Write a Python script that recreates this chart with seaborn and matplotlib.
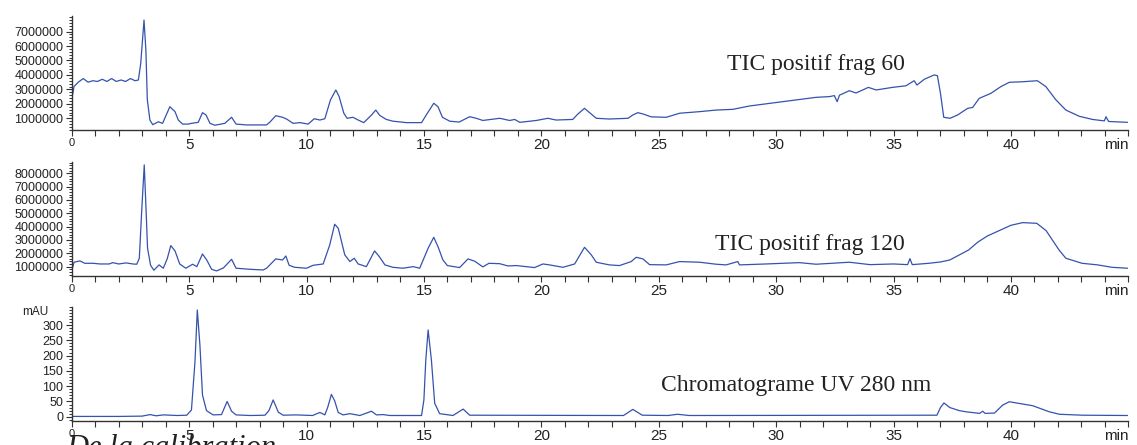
import matplotlib
matplotlib.use("Agg")
import matplotlib.pyplot as plt
from matplotlib.ticker import MultipleLocator, FuncFormatter
import seaborn as sns

# --- data (time in min) ---
# TIC positif frag 60, values in millions of counts
tic60_time = [0.0, 0.1, 0.28, 0.49, 0.7, 0.9, 1.1, 1.3, 1.5, 1.7, 1.9, 2.1, 2.3, 2.5, 2.7, 2.84,
              2.94, 3.08, 3.16, 3.22, 3.33, 3.45, 3.69, 3.87, 4.18, 4.4, 4.54, 4.72, 4.96, 5.1,
              5.39, 5.57, 5.72, 5.89, 6.1, 6.52, 6.81, 7.0, 7.45, 8.3, 8.45, 8.69, 8.98, 9.15,
              9.43, 9.72, 10.07, 10.33, 10.57, 10.78, 11.02, 11.25, 11.39, 11.59, 11.73, 11.98,
              12.2, 12.44, 12.77, 12.95, 13.12, 13.4, 13.68, 14.26, 14.9, 15.1, 15.42, 15.6,
              15.79, 16.1, 16.5, 16.95, 17.23, 17.51, 18.23, 18.65, 18.87, 19.08, 19.79, 20.28,
              20.63, 21.34, 21.56, 21.84, 22.05, 22.34, 22.9, 23.69, 23.9, 24.11, 24.33, 24.68,
              25.32, 25.89, 26.74, 27.45, 28.16, 28.86, 29.57, 30.28, 30.99, 31.7, 32.27, 32.48,
              32.6, 32.7, 33.12, 33.4, 33.93, 34.26, 34.96, 35.53, 35.88, 36.0, 36.31, 36.73,
              36.87, 37.0, 37.14, 37.41, 37.73, 38.16, 38.37, 38.65, 39.15, 39.57, 39.93, 40.5,
              41.13, 41.49, 41.92, 42.34, 42.91, 43.48, 43.98, 44.05, 44.16, 44.97]
tic60_vals = [2.3, 3.2, 3.5, 3.75, 3.5, 3.6, 3.55, 3.7, 3.55, 3.75, 3.55, 3.65, 3.55, 3.75, 3.6, 3.65,
              4.8, 7.8, 5.7, 2.3, 0.88, 0.56, 0.76, 0.65, 1.8, 1.46, 0.88, 0.6, 0.6, 0.65,
              0.72, 1.39, 1.23, 0.65, 0.52, 0.65, 1.07, 0.6, 0.54, 0.54, 0.75, 1.18, 1.07, 0.95,
              0.65, 0.7, 0.6, 0.97, 0.88, 0.97, 2.27, 2.96, 2.5, 1.35, 1.0, 1.07,
              0.88, 0.7, 1.23, 1.57, 1.2, 0.92, 0.8, 0.7, 0.7, 1.23, 2.04, 1.8,
              1.07, 0.8, 0.74, 1.11, 1.0, 0.85, 1.0, 0.85, 0.92, 0.72, 0.85, 1.0,
              0.88, 0.92, 1.3, 1.69, 1.4, 1.0, 0.95, 1.0, 1.23, 1.39, 1.3, 1.1,
              1.07, 1.35, 1.46, 1.57, 1.62, 1.85, 2.0, 2.15, 2.3, 2.45, 2.5, 2.57,
              2.15, 2.6, 2.91, 2.75, 3.14, 2.96, 3.14, 3.25, 3.6, 3.3, 3.7, 4.0,
              3.95, 2.73, 1.07, 1.0, 1.23, 1.69, 1.75, 2.38, 2.73, 3.19, 3.49, 3.53,
              3.6, 3.19, 2.27, 1.57, 1.14, 0.92, 0.82, 1.11, 0.78, 0.72]

# TIC positif frag 120, values in millions of counts
tic120_time = [0.03, 0.1, 0.35, 0.56, 0.92, 1.2, 1.6, 1.75, 2.0, 2.32, 2.6, 2.77, 2.88, 2.98, 3.09,
               3.17, 3.23, 3.36, 3.5, 3.72, 3.9, 4.07, 4.22, 4.4, 4.6, 4.86, 5.15, 5.33, 5.57,
               5.75, 5.96, 6.17, 6.46, 6.81, 7.0, 7.6, 8.15, 8.3, 8.69, 8.98, 9.12, 9.26, 9.5,
               10.0, 10.28, 10.71, 10.99, 11.2, 11.35, 11.42, 11.63, 11.85, 12.03, 12.2, 12.55,
               12.9, 13.1, 13.34, 13.68, 14.1, 14.55, 14.82, 15.18, 15.42, 15.6, 15.81, 16.0,
               16.52, 16.88, 17.17, 17.51, 17.77, 18.23, 18.58, 18.94, 19.71, 20.07, 20.35,
               20.92, 21.42, 21.84, 22.13, 22.34, 22.9, 23.33, 23.83, 24.04, 24.33, 24.61,
               25.32, 25.89, 26.74, 27.45, 27.87, 28.37, 28.44, 29.57, 30.99, 31.7, 33.12, 34.0,
               35.0, 35.6, 35.7, 35.8, 36.5, 37.0, 37.4, 38.2, 38.6, 39.0, 39.5, 40.0, 40.5,
               41.1, 41.5, 42.05, 42.34, 43.03, 43.7, 44.3, 44.97]
tic120_vals = [0.88, 1.33, 1.43, 1.25, 1.25, 1.2, 1.2, 1.3, 1.2, 1.28, 1.2, 1.18, 1.63, 5.13, 8.63,
               5.13, 2.38, 1.1, 0.73, 1.13, 0.88, 1.6, 2.58, 2.18, 1.2, 0.88, 1.18, 1.0, 1.95,
               1.5, 0.8, 0.68, 0.9, 1.55, 0.88, 0.8, 0.75, 0.88, 1.58, 1.5, 1.8, 1.1, 0.95,
               0.88, 1.1, 1.2, 2.63, 4.18, 3.88, 3.4, 1.88, 1.38, 1.63, 1.2, 1.0,
               2.18, 1.75, 1.13, 0.95, 0.88, 1.0, 0.88, 2.38, 3.2, 2.5, 1.5, 1.08,
               0.93, 1.58, 1.4, 0.98, 1.25, 1.22, 1.05, 1.08, 0.93, 1.2, 1.13,
               0.95, 1.2, 2.45, 1.88, 1.33, 1.13, 1.08, 1.38, 1.7, 1.58, 1.15,
               1.13, 1.38, 1.33, 1.18, 1.13, 1.38, 1.13, 1.2, 1.3, 1.18, 1.33, 1.15,
               1.2, 1.15, 1.6, 1.15, 1.25, 1.35, 1.5, 2.25, 2.85, 3.3, 3.7, 4.1, 4.3,
               4.25, 3.7, 2.25, 1.63, 1.25, 1.13, 0.95, 0.88]

# Chromatograme UV 280 nm, mAU
uv_time = [0.0, 1.0, 2.0, 3.0, 3.34, 3.6, 3.9, 4.5, 4.9, 5.1, 5.25, 5.35, 5.46, 5.57, 5.74, 6.02,
           6.38, 6.62, 6.81, 7.0, 7.6, 8.23, 8.4, 8.58, 8.8, 9.0, 9.55, 10.26, 10.57, 10.78,
           10.9, 11.06, 11.2, 11.35, 11.56, 11.85, 12.27, 12.77, 12.98, 13.26, 13.55, 14.9,
           15.0, 15.08, 15.18, 15.32, 15.46, 15.67, 16.24, 16.67, 16.95, 23.5, 23.9, 24.3,
           25.4, 25.8, 26.3, 36.85, 37.0, 37.15, 37.4, 37.8, 38.1, 38.67, 38.8, 38.9, 39.3,
           39.65, 39.93, 40.93, 41.64, 42.07, 43.06, 44.97]
uv_vals = [1, 1, 1, 2, 7, 3, 6, 4, 5, 22, 180, 349, 235, 71, 20, 6,
           7, 50, 18, 6, 4, 5, 20, 55, 15, 5, 6, 4, 14, 6,
           30, 73, 52, 14, 6, 10, 4, 18, 6, 7, 4, 4,
           55, 185, 284, 185, 44, 10, 4, 25, 5, 4, 24, 5,
           4, 8, 4, 5, 30, 45, 30, 20, 16, 11, 18, 11, 12,
           38, 49, 36, 16, 8, 5, 4]

x_ticks = [0, 5, 10, 15, 20, 25, 30, 35, 40, 45]
x_tick_labels = ["0", "5", "10", "15", "20", "25", "30", "35", "40", "min"]
tic60_yticks = [1, 2, 3, 4, 5, 6, 7]
tic120_yticks = [1, 2, 3, 4, 5, 6, 7, 8]
uv_yticks = [0, 50, 100, 150, 200, 250, 300]
labels = ["TIC positif frag 60", "TIC positif frag 120", "Chromatograme UV 280 nm"]

LINE = "#3552ad"
TXT = "#222222"

sns.set_style("ticks")
plt.rcParams["font.family"] = ["Liberation Sans", "DejaVu Sans"]

fig = plt.figure(figsize=(11.37, 4.45), dpi=100)
W, H = 1137, 445


def add_panel(top_px, bottom_px):
    left, right = 71.7, 1128.3
    return fig.add_axes([left / W, 1 - bottom_px / H, (right - left) / W, (bottom_px - top_px) / H])


def style_axis(ax, ylim, yticks, yminor, fmt):
    ax.set_xlim(0, 45)
    ax.set_ylim(*ylim)
    sns.despine(ax=ax)
    for s in ax.spines.values():
        s.set_linewidth(1.0)
        s.set_color("#333333")
    ax.set_xticks(x_ticks)
    ax.set_xticklabels(x_tick_labels, fontsize=11, color=TXT)
    ax.get_xticklabels()[0].set_fontsize(8)
    ax.get_xticklabels()[-1].set_horizontalalignment("right")
    ax.xaxis.set_minor_locator(MultipleLocator(1))
    ax.set_yticks(yticks)
    ax.yaxis.set_major_formatter(FuncFormatter(fmt))
    ax.yaxis.set_minor_locator(MultipleLocator(yminor))
    ax.tick_params(axis="x", which="both", length=4, width=0.8, colors="#333333", pad=2)
    ax.tick_params(axis="x", labelcolor=TXT)
    ax.tick_params(axis="y", which="major", length=4, width=0.8, labelsize=9, pad=2,
                   colors="#333333", labelcolor=TXT)
    ax.tick_params(axis="y", which="minor", length=2.5, width=0.7, colors="#333333")
    ax.set_xlabel("")
    ax.set_ylabel("")


millions = lambda v, p: f"{v * 1000000:.0f}"
plain = lambda v, p: f"{v:.0f}"

# top panel
ax1 = add_panel(15.7, 130)
sns.lineplot(x=tic60_time, y=tic60_vals, ax=ax1, color=LINE, linewidth=0.9, estimator=None)
style_axis(ax1, (0.19, 8.1), tic60_yticks, 0.2, millions)
ax1.text(27.93, 4.34, labels[0], family=["Liberation Serif", "DejaVu Serif"], fontsize=17,
         color=TXT, va="baseline", ha="left")

# middle panel
ax2 = add_panel(161.7, 275.7)
sns.lineplot(x=tic120_time, y=tic120_vals, ax=ax2, color=LINE, linewidth=0.9, estimator=None)
style_axis(ax2, (0.32, 8.87), tic120_yticks, 0.2, millions)
ax2.text(27.4, 2.25, labels[1], family=["Liberation Serif", "DejaVu Serif"], fontsize=17,
         color=TXT, va="baseline", ha="left")

# bottom panel
ax3 = add_panel(306.7, 420.7)
sns.lineplot(x=uv_time, y=uv_vals, ax=ax3, color=LINE, linewidth=0.9, estimator=None)
style_axis(ax3, (-13, 360), uv_yticks, 10, plain)
ax3.text(25.1, 84, labels[2], family=["Liberation Serif", "DejaVu Serif"], fontsize=17,
         color=TXT, va="baseline", ha="left")
fig.text(35 / W, 1 - 312 / H, "mAU", fontsize=8.5, color=TXT, ha="center", va="center")

# start of the caption line below, cut by the figure edge
fig.text(66 / W, 1 - 456 / H, "De la calibration", family=["Liberation Serif", "DejaVu Serif"],
         style="italic", fontsize=22, color=TXT, ha="left", va="baseline")

fig.savefig("out.png", dpi=100)
